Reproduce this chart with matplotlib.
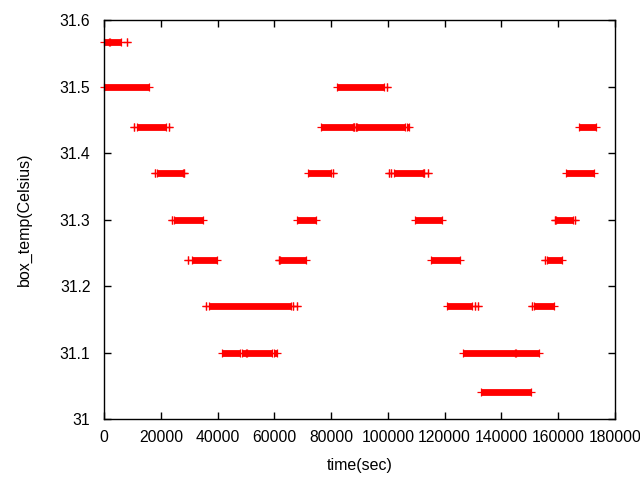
import matplotlib
matplotlib.use("Agg")
import matplotlib.pyplot as plt

plt.rcParams['font.family'] = ['Liberation Sans', 'DejaVu Sans']

# temperature levels (Celsius)
levels = [31.567, 31.5, 31.44, 31.37, 31.3, 31.24, 31.17, 31.1, 31.04]

# runs of samples at each level: (start_sec, end_sec); start == end is a single sample
runs_31_567 = [(0, 1660), (2000, 5900), (7900, 7900)]
runs_31_5 = [(0, 15800), (82240, 98500), (99550, 99550)]
runs_31_44 = [(10500, 10500), (11450, 21700), (22870, 22870), (76330, 87870),
              (88140, 88140), (88600, 88600), (88950, 105900), (106620, 107570),
              (167400, 173400)]
runs_31_37 = [(18030, 18030), (18730, 27700), (28270, 28270), (71990, 80120),
              (80680, 80680), (100480, 100480), (101080, 101080), (102030, 112280),
              (112840, 112840), (114050, 114050), (162800, 172700)]
runs_31_3 = [(23920, 23920), (24630, 34770), (68110, 74820), (109450, 119000),
             (158800, 158800), (159300, 165300), (166000, 166000)]
runs_31_24 = [(29440, 29440), (31000, 39830), (61600, 61600), (62090, 71280),
              (115100, 125400), (155250, 155250), (156100, 161400)]
runs_31_17 = [(35930, 35930), (36760, 65870), (66440, 66440), (67850, 67850),
              (120760, 129600), (130900, 130900), (131800, 131800),
              (150900, 150900), (151500, 158600)]
runs_31_1 = [(41660, 47900), (48660, 50080), (50430, 59150), (59740, 61030),
             (126400, 144800), (145100, 153300)]
runs_31_04 = [(132800, 150400)]

all_runs = [runs_31_567, runs_31_5, runs_31_44, runs_31_37, runs_31_3,
            runs_31_24, runs_31_17, runs_31_1, runs_31_04]

x_ticks = [0, 20000, 40000, 60000, 80000, 100000, 120000, 140000, 160000, 180000]
y_ticks = [31, 31.1, 31.2, 31.3, 31.4, 31.5, 31.6]
y_tick_labels = ['31', '31.1', '31.2', '31.3', '31.4', '31.5', '31.6']

fig = plt.figure(figsize=(6.4, 4.8), dpi=100)
ax = fig.add_axes([104.3 / 640, (480 - 419) / 480, (614.7 - 104.3) / 640, (419 - 20.3) / 480])

red = '#ff0000'
for lvl, runs in zip(levels, all_runs):
    for s, e in runs:
        ax.plot([s, e], [lvl, lvl], color=red, lw=4.9, solid_capstyle='butt',
                marker='+', ms=5.6, mew=0.9, clip_on=False)

ax.set_xlim(0, 180000)
ax.set_ylim(31, 31.6)
ax.set_xticks(x_ticks)
ax.set_xticklabels([str(t) for t in x_ticks])
ax.set_yticks(y_ticks)
ax.set_yticklabels(y_tick_labels)
ax.tick_params(direction='in', length=5, width=1, top=True, right=True,
               labelsize=11.3, colors='#000000')
ax.tick_params(axis='x', pad=8)
ax.tick_params(axis='y', pad=10)
for sp in ax.spines.values():
    sp.set_linewidth(1)
ax.set_xlabel('time(sec)', fontsize=11.5, labelpad=9)
ax.set_ylabel('box_temp(Celsius)', fontsize=11.5, labelpad=20)

fig.savefig('out.png', dpi=100)
